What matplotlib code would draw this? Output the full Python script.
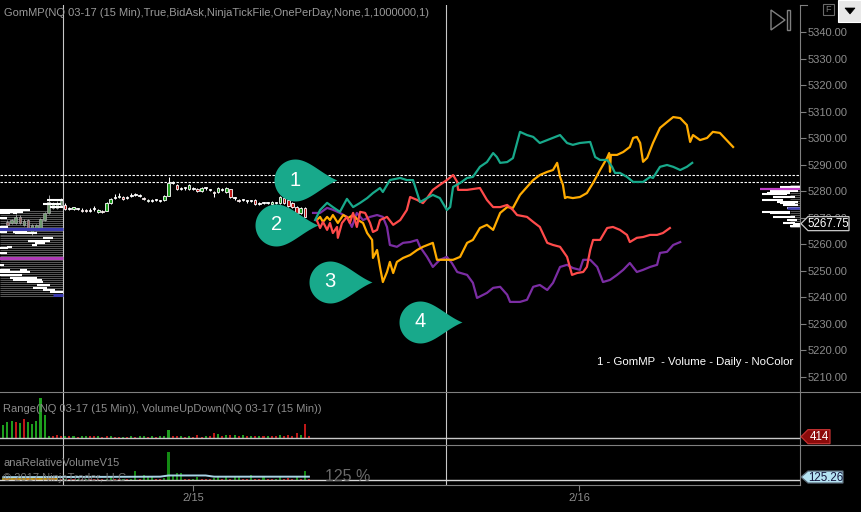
import numpy as np
import matplotlib
matplotlib.use("Agg")
import matplotlib.pyplot as plt
from matplotlib.path import Path
from matplotlib.patches import Polygon, Rectangle
from matplotlib.lines import Line2D
import matplotlib.transforms as mtransforms

plt.rcParams['font.family'] = ['Liberation Sans', 'DejaVu Sans']

# ---------------- texts ----------------
title = "GomMP(NQ 03-17 (15 Min),True,BidAsk,NinjaTickFile,OnePerDay,None,1,1000000,1)"
panel2_label = "Range(NQ 03-17 (15 Min)), VolumeUpDown(NQ 03-17 (15 Min))"
panel3_label = "anaRelativeVolumeV15"
copyright_txt = "\u00a9 2017 NinjaTrader, LLC"
legend_txt = "1 - GomMP  - Volume - Daily - NoColor"
pct_txt = "125 %"

# ---------------- axis values ----------------
price_ticks = [5210, 5220, 5230, 5240, 5250, 5260, 5270, 5280, 5290, 5300, 5310, 5320, 5330, 5340]
date_ticks = [46.0, 139.5]            # bar index of session start
date_labels = ["2/15", "2/16"]
session_lines = [14.5, 107.2]
dashed_levels = [5286.1, 5283.5]
last_price = 5267.75
last_vol = 414
last_relvol = 125.26

# ---------------- candles (bar index, OHLC) ----------------
cnd_i = list(range(15, 74))
cnd_o = [5274.8,5273.3,5273.3,5273.3,5272.9,5272.6,5272.5,5273.2,5272.3,5272.4,
         5272.7,5275.5,5277.6,5277.9,5277.7,5277.6,5278.2,5278.6,5278.2,5277.6,
         5276.2,5276.4,5276.7,5276.4,5276.7,5278.2,5283.2,5282.4,5280.8,5281.1,
         5280.7,5281.0,5280.8,5279.9,5281.1,5280.5,5279.7,5279.8,5280.5,5279.8,
         5280.7,5277.3,5276.6,5276.7,5276.2,5276.3,5276.7,5275.2,5275.5,5275.5,
         5275.3,5275.5,5275.5,5277.4,5276.6,5275.7,5274.2,5271.7,5273.6]
cnd_c = [5273.2,5273.3,5273.9,5273.3,5272.6,5272.5,5272.5,5273.2,5272.8,5272.2,
         5275.5,5277.1,5277.6,5278.0,5277.1,5277.6,5278.2,5278.6,5278.2,5277.0,
         5276.7,5276.4,5276.7,5276.4,5278.2,5283.0,5283.2,5280.7,5280.8,5281.1,
         5282.4,5281.0,5280.0,5281.2,5281.1,5280.5,5279.5,5281.3,5280.5,5281.3,
         5277.9,5277.3,5276.3,5276.7,5276.2,5276.3,5275.1,5275.2,5275.5,5275.5,
         5275.9,5275.5,5277.7,5275.5,5274.3,5273.9,5271.9,5273.6,5270.4]
cnd_h = [5275.4,5274.0,5274.2,5273.8,5273.5,5273.3,5273.6,5274.3,5273.2,5272.9,
         5275.8,5277.5,5278.8,5279.2,5278.0,5278.3,5279.3,5279.2,5278.8,5277.9,
         5277.0,5276.9,5277.2,5276.8,5278.5,5285.5,5283.8,5282.7,5281.4,5281.6,
         5282.7,5281.5,5281.1,5281.5,5281.7,5281.0,5280.1,5281.6,5281.2,5281.6,
         5281.0,5277.8,5276.9,5277.2,5276.7,5276.8,5277.0,5275.8,5276.0,5276.0,
         5276.2,5276.0,5278.1,5277.7,5276.9,5276.0,5274.5,5273.9,5273.9]
cnd_l = [5272.8,5272.8,5272.9,5272.8,5272.2,5272.0,5272.1,5272.6,5271.9,5271.8,
         5272.4,5275.2,5277.1,5277.5,5276.8,5277.2,5277.7,5278.1,5277.7,5276.7,
         5276.0,5276.0,5276.2,5276.0,5276.4,5278.0,5282.6,5280.3,5280.4,5280.6,
         5280.5,5280.6,5279.8,5279.7,5280.6,5280.0,5277.9,5279.5,5280.1,5279.5,
         5277.6,5276.8,5275.9,5276.2,5275.7,5275.8,5274.8,5274.7,5275.0,5275.0,
         5275.0,5275.0,5275.2,5275.2,5274.0,5273.6,5271.6,5271.4,5270.1]

# dimmed candles inside previous-session profile
old_i = list(range(1, 15))
old_o = [5268.5,5267.9,5267.9,5270.4,5267.3,5269.1,5264.1,5265.4,5266.0,5269.1,5271.7,5273.6,5273.6,5274.8]
old_c = [5267.3,5269.1,5270.4,5267.9,5268.9,5266.0,5267.3,5267.3,5269.4,5271.7,5276.1,5275.5,5275.5,5276.7]
old_h = [5269.0,5269.6,5271.5,5271.0,5269.5,5269.5,5267.8,5267.8,5270.0,5272.2,5278.6,5276.0,5276.2,5277.3]
old_l = [5266.8,5267.5,5267.5,5267.5,5266.8,5265.5,5263.5,5265.0,5265.5,5268.7,5271.3,5273.2,5273.2,5274.4]

# ---------------- four GomMP lines ----------------
teal_x = [75.5,76.7,78.4,79.8,81.5,83.2,84.7,86.4,88.1,89.5,91.2,91.9,93.6,96.1,97.7,99.2,100.2,100.9,102.6,104.0,
          105.7,107.4,108.2,108.9,110.6,112.3,113.7,115.4,117.1,118.6,119.5,120.3,122.0,123.4,125.1,126.8,128.3,129.9,131.7,134.8,
          136.5,137.9,139.6,142.1,143.3,144.5,146.2,147.4,148.1,149.3,151.0,152.5,154.9,156.6,157.3,159.0,160.7,162.2,163.9,165.5,166.8]
teal_y = [5269.1,5272.9,5275.6,5274.0,5272.2,5277.1,5274.0,5275.6,5277.4,5279.3,5281.2,5279.7,5284.2,5285.0,5284.2,5284.2,5279.3,5275.9,5277.4,5278.6,
          5277.4,5272.9,5274.0,5281.6,5283.1,5285.0,5285.4,5289.2,5291.0,5294.4,5292.9,5290.7,5291.0,5292.5,5302.4,5301.2,5300.5,5298.2,5299.3,5301.2,
          5298.2,5297.5,5298.2,5298.6,5292.9,5291.8,5291.8,5289.2,5286.9,5286.9,5285.4,5283.5,5283.5,5285.4,5285.0,5289.2,5289.9,5289.2,5288.0,5289.2,5290.7]

red_x = [75.9,76.7,77.4,78.4,79.1,79.8,80.8,81.0,82.0,83.2,83.9,84.7,85.6,86.4,87.6,88.8,89.5,90.5,91.2,92.9,
         94.4,96.1,97.7,98.5,100.2,101.6,102.6,104.0,105.7,107.4,108.9,109.9,110.1,112.3,115.4,117.1,118.6,120.3,122.0,123.4,
         124.4,126.8,128.3,129.9,131.7,133.1,134.8,136.5,137.7,138.9,140.4,141.3,142.1,142.8,144.5,146.2,147.6,149.3,151.0,151.7,
         153.4,154.9,156.6,158.3,159.7,161.4]
red_y = [5269.1,5266.1,5268.4,5265.4,5268.0,5264.2,5266.5,5262.4,5268.0,5270.3,5268.0,5271.8,5266.5,5272.2,5271.8,5268.0,5264.6,5265.4,5269.1,5270.3,
         5267.3,5269.1,5272.9,5277.8,5276.7,5275.5,5277.4,5280.5,5282.4,5284.2,5286.1,5283.5,5280.5,5280.5,5281.2,5276.7,5274.0,5274.0,5274.8,5272.9,
         5271.0,5270.3,5268.4,5266.5,5260.5,5259.7,5259.0,5255.2,5248.4,5249.1,5249.5,5251.4,5257.8,5261.6,5261.6,5266.1,5266.5,5265.4,5263.5,5260.8,
         5262.4,5262.7,5263.5,5263.5,5264.2,5266.1]

orange_x = [75.9,76.7,77.4,78.4,79.1,79.8,81.0,82.3,83.5,84.7,85.9,87.1,88.1,89.3,89.5,90.5,91.2,91.9,92.9,93.6,
            94.4,95.3,96.8,98.5,100.2,101.6,104.0,105.0,106.5,108.9,110.6,112.3,113.7,115.4,117.1,118.6,120.3,122.0,123.4,125.1,
            126.8,128.3,129.9,131.7,133.1,134.1,134.8,135.5,136.0,136.5,137.9,139.6,141.3,142.8,144.5,146.2,146.7,146.9,147.1,148.6,
            150.1,151.7,152.5,153.4,154.2,154.9,155.9,157.3,159.0,160.7,162.2,163.9,165.5,166.3,167.0,168.7,170.4,171.8,173.5,176.7]
orange_y = [5269.1,5270.3,5268.4,5270.3,5269.1,5271.0,5268.0,5271.0,5269.9,5271.0,5269.1,5268.0,5264.2,5261.6,5254.8,5257.8,5251.4,5245.7,5249.5,5253.3,
            5249.1,5253.3,5254.8,5255.9,5257.8,5259.0,5260.5,5254.1,5254.1,5254.1,5255.2,5260.5,5261.6,5266.1,5267.3,5265.4,5271.8,5274.0,5273.7,5278.6,
            5281.6,5284.2,5286.1,5287.3,5288.0,5290.7,5285.4,5282.4,5277.4,5277.8,5277.4,5277.8,5279.3,5283.1,5288.0,5292.6,5294.4,5287.3,5293.7,5293.7,
            5294.8,5296.7,5300.1,5300.5,5298.2,5291.1,5292.6,5298.2,5303.9,5306.1,5308.0,5307.6,5305.0,5298.6,5301.2,5299.3,5300.1,5302.4,5302.0,5296.7]

purple_x = [75.0,76.7,78.4,79.8,81.5,83.2,84.4,85.6,87.1,88.8,90.5,91.9,92.9,93.6,95.3,96.8,98.5,100.2,100.9,102.6,
            104.0,105.7,107.4,108.6,109.9,112.3,113.7,114.7,117.1,118.6,120.3,122.0,122.7,125.1,126.8,128.3,129.9,131.7,133.1,134.8,
            136.5,137.9,139.6,140.4,142.1,143.8,145.2,146.9,148.6,150.1,151.7,153.4,154.9,156.6,158.3,159.0,160.7,162.2,163.9]
purple_y = [5271.8,5271.8,5273.7,5273.0,5271.8,5270.3,5266.5,5271.8,5269.1,5270.3,5271.0,5270.3,5266.5,5259.7,5259.0,5260.5,5260.8,5261.6,5259.0,5255.2,
            5251.4,5254.1,5255.2,5252.9,5249.5,5248.4,5245.4,5239.7,5241.6,5243.5,5243.9,5240.9,5238.2,5238.2,5239.0,5243.9,5244.6,5242.7,5245.4,5251.4,
            5252.2,5251.0,5250.3,5254.1,5254.1,5251.4,5245.7,5246.5,5248.4,5250.3,5252.9,5249.5,5250.3,5251.4,5252.2,5256.7,5257.1,5259.7,5260.8]

# numbered callouts (tip position: bar index, price)
callout_x = [80.8, 76.3, 89.2, 111.0]
callout_y = [5284.2, 5267.3, 5245.9, 5230.8]
callout_lbl = ["1", "2", "3", "4"]

# ---------------- volume profiles ----------------
lp_price = [5272.9,5272.3,5271.7,5271.7,5269.8,5266.4,5264.7,5264.7,5264.1,5262.2,5261.3,5260.3,5259.7,5259.1,5258.5,
            5256.6,5252.2,5250.3,5250.3,5249.4,5248.4,5247.4,5246.5,5245.6,5244.6,5243.6,5242.7,5242.1,5276.7,5275.2,5274.0]
lp_i0 = [-1,-1,-1,2.4,-1,-1,-1,2.4,2.8,9.7,6.1,7.7,6.9,0.8,-1,
         -1,-1,-1,4.0,-1,-1,1.6,2.4,5.7,8.1,7.3,9.7,11.3,10.5,9.7,11.3]
lp_i1 = [6.5,4.8,1.6,3.2,0.8,1.2,0.8,5.7,8.1,12.1,11.3,10.1,8.1,2.0,1.2,
         0.8,0.1,1.6,5.7,6.5,4.5,8.1,9.3,9.7,11.3,10.5,12.5,14.5,14.5,14.0,14.5]
lp_range = (5240.4, 5272.9, -0.8, 14.5)
lp_poc = 5254.8
lp_va = [(5265.7, -1, 14.5), (5240.8, 12.1, 14.5)]

rp_price = [5281.7,5280.2,5279.4,5278.9,5277.9,5276.7,5276.0,5275.4,5274.8,5273.6,5272.3,5271.7,5270.4,5269.1,5268.1,5267.5,5266.9]
rp_i0 = [188.1,185.6,184.8,183.6,186.4,183.6,187.3,188.1,188.9,189.7,183.6,185.6,186.4,189.7,188.9,191.3,190.5]
rp_i1 = [192.9,192.5,190.5,189.7,191.7,188.9,192.5,191.7,192.5,192.9,190.5,190.5,191.7,192.1,191.7,192.9,192.9]
rp_range = (5266.5, 5282.3, 190.5, 192.9)
rp_poc = (5280.8, 183.2, 192.9)
rp_va = (5273.7, 189.7, 192.9)

# ---------------- lower panels ----------------
vol_i = list(range(0, 75))
vol = [3330,4180,4430,4180,3750,4750,4000,3580,4430,10000,
       5830,580,580,750,630,500,500,500,380,500,
       500,500,500,500,380,500,500,380,380,380,
       380,630,380,500,500,380,500,380,500,500,
       2080,580,500,500,380,500,380,830,380,500,
       500,1250,1080,500,750,750,750,500,750,500,
       500,500,500,500,500,500,500,750,500,750,
       500,1250,930,3580,580]
vol_dir = "gggrgrgggg" "ggrrrgrgrg" "grrgrrgrrg" "rgrggrgrgg" "grrgrgrrrg" "rrgrgrgrgr" "grgrgrrgrr" "rrgrr"

relvol = [84,126,84,84,126,84,84,126,84,84,
          168,84,84,84,63,63,63,63,63,63,
          63,63,63,63,63,63,168,63,63,63,
          63,63,391,63,210,168,168,63,42,84,
          1189,210,281,281,63,63,63,113,63,63,
          63,71,113,63,139,63,139,139,63,63,
          210,63,63,139,63,63,63,113,63,84,
          63,113,63,391,63]
relvol_dir = "grgrggrgrg" "grrgrgrrgr" "grrrrggrrg" "rggrgggrrg" "ggggrrggrr" "rggrgrggrr" "grrgrrggrr" "rgrgr"
rv_avg_x = [0, 14, 30, 38, 40, 49, 51, 74]
rv_avg = [120, 125, 135, 140, 190, 190, 140, 140]
rv_short_x = [0, 13]
rv_short = [60, 60]

# ---------------- colours ----------------
BG = "black"
GRID = "#7f7f7f"
LBL = "#8c8c8c"
TEAL = "#18a98b"
RED = "#ff4b4b"
ORANGE = "#ffab00"
PURPLE = "#7b2da3"
UP = "#1e9e1e"
DN = "#c01818"

# ---------------- figure / axes ----------------
W, H = 861, 512
fig = plt.figure(figsize=(W / 100, H / 100), dpi=100, facecolor=BG)

def rect(x0, y0, x1, y1):
    return [x0 / W, 1 - y1 / H, (x1 - x0) / W, (y1 - y0) / H]

ax = fig.add_axes(rect(0, 5, 800, 391.7))
ax2 = fig.add_axes(rect(0, 391.7, 800, 445), sharex=ax)
ax3 = fig.add_axes(rect(0, 445, 800, 485), sharex=ax)

for a in (ax, ax2, ax3):
    a.set_facecolor(BG)
    for s in a.spines.values():
        s.set_visible(False)
    a.spines['right'].set_visible(True)
    a.spines['right'].set_color(GRID)
    a.spines['right'].set_linewidth(0.8)
    a.tick_params(axis='x', bottom=False, labelbottom=False)
    for xv in session_lines:
        a.axvline(xv, color="#c8c8c8", lw=0.8, zorder=1.5)

ax.set_xlim(-0.8, 192.9)
ax.set_ylim(5204.3, 5350.3)
ax2.set_ylim(-1675, 11650)
ax3.set_ylim(-210, 1470)

ax.yaxis.tick_right()
ax.set_yticks(price_ticks)
ax.set_yticklabels([f"{v:.2f}" for v in price_ticks])
ax.tick_params(axis='y', direction='out', length=4, width=0.8, color=GRID,
               labelcolor=LBL, labelsize=8, pad=1.5)
ax2.set_yticks([])
ax3.set_yticks([])

ax3.spines['bottom'].set_visible(True)
ax3.spines['bottom'].set_color(GRID)
ax3.spines['bottom'].set_linewidth(0.8)
ax3.set_xticks(date_ticks)
ax3.set_xticklabels(date_labels)
ax3.tick_params(axis='x', bottom=True, labelbottom=True, direction='out', length=4.5,
                width=0.8, color=GRID, labelcolor=LBL, labelsize=8, pad=1.5)

# ---------------- previous-session profile (left) ----------------
p0, p1, xa, xb = lp_range
ax.hlines(np.arange(p0, p1, 0.75), xa, xb, color="#555555", lw=0.75, zorder=1.2)
for i, o, h, l, c in zip(old_i, old_o, old_h, old_l, old_c):
    fc = "#6f9a6f" if c > o else "#9a6a6a"
    ax.vlines(i, l, h, color="#9a9a9a", lw=0.7, zorder=1.3)
    ax.add_patch(Rectangle((i - 0.3, min(o, c)), 0.6, max(abs(c - o), 0.35),
                           fc=fc, ec="#a8a8a8", lw=0.5, zorder=1.4))
ax.hlines(lp_price, lp_i0, lp_i1, color="white", lw=1.5, zorder=2.2)
ax.hlines(lp_poc, xa - 0.5, xb, color="#b03cb8", lw=2.2, zorder=2.3)
for pv, a0, a1 in lp_va:
    ax.hlines(pv, a0, a1, color="#3a3ab0", lw=2.2, zorder=2.3)

# ---------------- current profile (right) ----------------
q0, q1, xc, xd = rp_range
ax.hlines(np.arange(q0, q1, 0.75), xc, xd, color="#555555", lw=0.75, zorder=1.2)
ax.hlines(rp_price, rp_i0, rp_i1, color="white", lw=1.5, zorder=2.2)
ax.hlines(rp_poc[0], rp_poc[1], rp_poc[2], color="#c040c8", lw=1.6, zorder=2.3)
ax.hlines(rp_va[0], rp_va[1], rp_va[2], color="#3a3ab0", lw=1.8, zorder=2.3)

# ---------------- candles ----------------
for i, o, h, l, c in zip(cnd_i, cnd_o, cnd_h, cnd_l, cnd_c):
    fc = UP if c > o else (DN if c < o else "white")
    ax.vlines(i, l, h, color="white", lw=0.75, zorder=3)
    ax.add_patch(Rectangle((i - 0.3, min(o, c)), 0.6, max(abs(c - o), 0.35),
                           fc=fc, ec="white", lw=0.6, zorder=3.1))

for lv in dashed_levels:
    ax.axhline(lv, color="white", lw=0.8, ls=(0, (2.2, 1.4)), zorder=3.5)

# ---------------- GomMP lines ----------------
for xs, ys, col in ((purple_x, purple_y, PURPLE), (orange_x, orange_y, ORANGE),
                    (red_x, red_y, RED), (teal_x, teal_y, TEAL)):
    ax.plot(xs, ys, color=col, lw=1.6, solid_joinstyle='round', zorder=5)

# ---------------- callouts ----------------
s = np.linspace(0, 1, 30)[:, None]
P0, P1, P2, P3 = np.array([0, 0]), np.array([-0.75, 0.3]), np.array([-1.35, 1.0]), np.array([-2.0, 1.0])
upper = (1 - s) ** 3 * P0 + 3 * (1 - s) ** 2 * s * P1 + 3 * (1 - s) * s ** 2 * P2 + s ** 3 * P3
t = np.linspace(np.pi / 2, 3 * np.pi / 2, 40)
arc = np.column_stack([-2 + np.cos(t), np.sin(t)])
lower = upper[::-1] * np.array([1, -1])
drop = Path(np.vstack([upper, arc[1:], lower[1:]]), closed=True)
MS = 90.7
ax.plot(callout_x, callout_y, ls='none', marker=drop, ms=MS, mfc=TEAL, mec=TEAL, mew=0, zorder=10)
for xv, yv, lb in zip(callout_x, callout_y, callout_lbl):
    ax.annotate(lb, (xv, yv), xytext=(-MS / 3, 0), textcoords='offset points',
                ha='center', va='center', color='white', fontsize=14.5, zorder=11)

# ---------------- lower panels ----------------
ax2.bar(vol_i, vol, width=0.5, color=[UP if d == 'g' else DN for d in vol_dir], zorder=2)
ax2.axhline(0, color="#c8c8c8", lw=1.0, zorder=3)

ax3.bar(vol_i, relvol, width=0.5, color=["#138a13" if d == 'g' else "#b01414" for d in relvol_dir], zorder=2)
ax3.plot(rv_short_x, rv_short, color="#d08a00", lw=1.2, zorder=3)
ax3.plot(rv_avg_x, rv_avg, color="#a8d4e6", lw=1.4, zorder=3)
ax3.axhline(0, color="#d8d8d8", lw=1.0, zorder=3)

# ---------------- price tags ----------------
def tag(a, value, text, fc, ec, tc, w, hh):
    tr = fig.dpi_scale_trans + mtransforms.ScaledTranslation(1.0, value, a.get_yaxis_transform())
    v = [(0.01, 0), (0.08, hh / 100), (w / 100, hh / 100), (w / 100, -hh / 100), (0.08, -hh / 100)]
    a.add_patch(Polygon(v, closed=True, transform=tr, fc=fc, ec=ec, lw=0.9, clip_on=False, zorder=20))
    a.text((8 + w) / 200, -0.005, text, transform=tr, ha='center', va='center', color=tc,
           fontsize=8.3, clip_on=False, zorder=21)

tag(ax, last_price, f"{last_price:.2f}", "black", "#c8c8c8", "white", 49, 7)
tag(ax2, last_vol * 250 / 250, f"{last_vol}", "#8b0a0a", "#c03030", "white", 30, 7)
tag(ax3, last_relvol, f"{last_relvol:.2f}", "#b4e2f2", "#5a6a78", "#14143c", 43, 6)

# ---------------- texts ----------------
def fx(px):
    return px / W

def fy(py):
    return 1 - py / H

fig.text(fx(4), fy(12.7), title, color="#9a9a9a", fontsize=8, va='center', ha='left')
fig.text(fx(3), fy(409.3), panel2_label, color="#8c8c8c", fontsize=8, va='center', ha='left')
fig.text(fx(3), fy(462.7), panel3_label, color="#8c8c8c", fontsize=8, va='center', ha='left')
fig.text(fx(3), fy(478), copyright_txt, color="#7a7a7a", fontsize=8, va='center', ha='left', alpha=0.9)
fig.text(fx(325), fy(476.5), pct_txt, color="#6a6a6a", fontsize=11.5, va='center', ha='left')
fig.text(fx(793), fy(362), legend_txt, color="white", fontsize=8.2, va='center', ha='right')

# ---------------- decorations (separators, buttons) ----------------
deco = fig.add_axes([0, 0, 1, 1])
deco.set_xlim(0, W)
deco.set_ylim(H, 0)
deco.axis('off')
deco.patch.set_visible(False)
for yy in (391.7, 445):
    deco.add_line(Line2D([0, W], [yy, yy], color=GRID, lw=0.8))
deco.add_line(Line2D([800, 807], [5, 5], color=GRID, lw=0.8))
deco.add_patch(Polygon([(771, 10), (771, 30), (785, 20)], closed=True, fc='none', ec="#808080", lw=1.0))
deco.add_patch(Rectangle((787, 10), 3, 20, fc='none', ec="#808080", lw=1.0))
deco.add_patch(Rectangle((823, 4), 11, 11, fc='none', ec="#6a6a6a", lw=0.8))
deco.text(828.5, 9.8, "F", color="#7a7a7a", fontsize=6.5, ha='center', va='center')
deco.add_patch(Rectangle((838, 0), 23, 22, fc="#e8e8e8", ec="white", lw=0.8))
deco.add_patch(Polygon([(845, 8), (855, 8), (850, 14)], closed=True, fc="black", ec="black", lw=0.5))

fig.savefig("out.png", dpi=100, facecolor=BG)
